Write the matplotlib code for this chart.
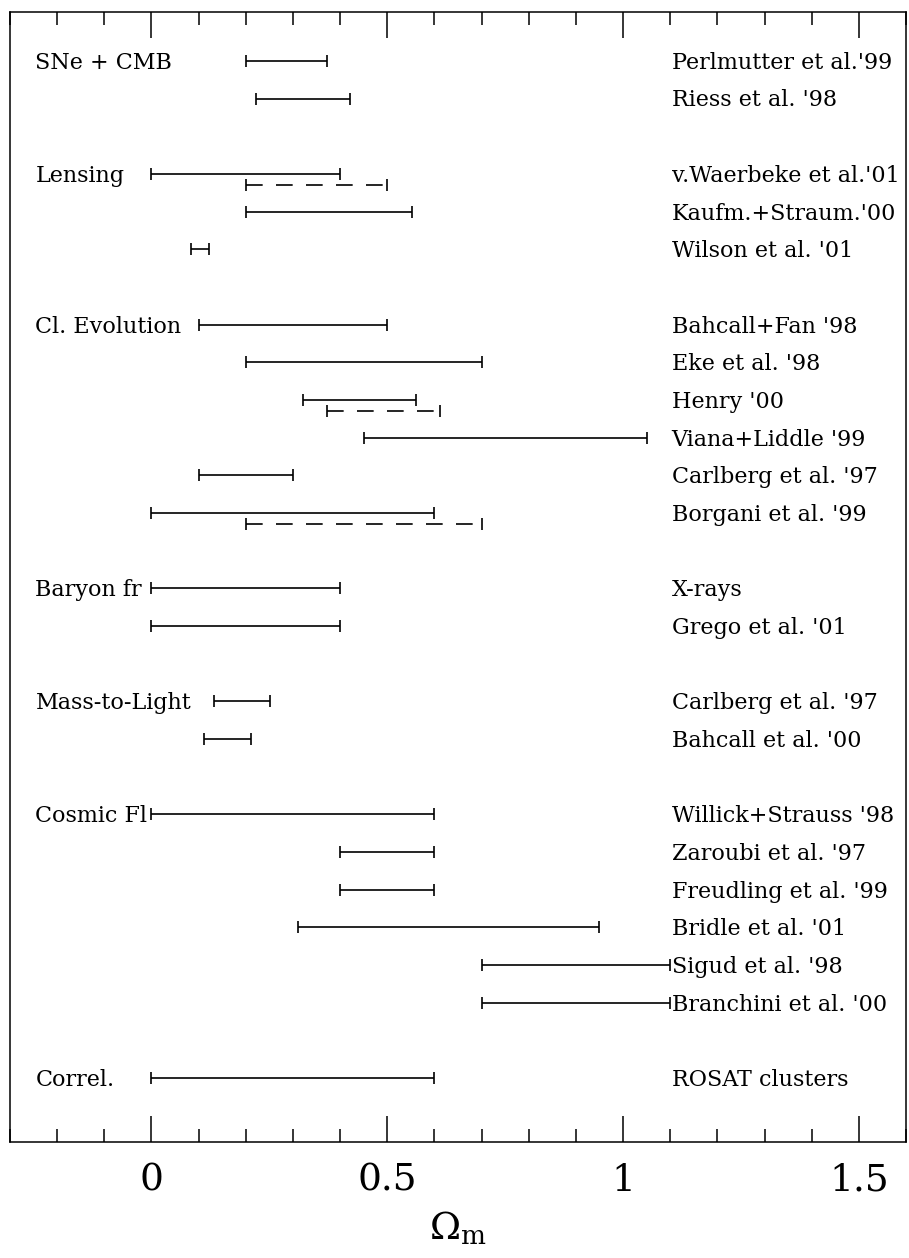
import matplotlib
matplotlib.use("Agg")
import matplotlib.pyplot as plt
from matplotlib.ticker import MultipleLocator, FixedLocator

plt.rcParams['font.family'] = ['DejaVu Serif']
plt.rcParams['mathtext.fontset'] = 'dejavuserif'

# Method groups (left column)
group_labels = ["SNe + CMB", "Lensing", "Cl. Evolution", "Baryon fr",
                "Mass-to-Light", "Cosmic Fl", "Correl."]
group_rows = [0, 3, 7, 14, 17, 20, 27]

# Individual constraints (right column), Omega_m ranges
ref_labels = ["Perlmutter et al.'99", "Riess et al. '98",
              "v.Waerbeke et al.'01", "Kaufm.+Straum.'00", "Wilson et al. '01",
              "Bahcall+Fan '98", "Eke et al. '98", "Henry '00", "Viana+Liddle '99",
              "Carlberg et al. '97", "Borgani et al. '99",
              "X-rays", "Grego et al. '01",
              "Carlberg et al. '97", "Bahcall et al. '00",
              "Willick+Strauss '98", "Zaroubi et al. '97", "Freudling et al. '99",
              "Bridle et al. '01", "Sigud et al. '98", "Branchini et al. '00",
              "ROSAT clusters"]
ref_rows = [0, 1, 3, 4, 5, 7, 8, 9, 10, 11, 12, 14, 15, 17, 18,
            20, 21, 22, 23, 24, 25, 27]
omega_lo = [0.20, 0.222, 0.0, 0.20, 0.083, 0.10, 0.20, 0.322, 0.45, 0.10, 0.0,
            0.0, 0.0, 0.132, 0.112, 0.0, 0.40, 0.40, 0.31, 0.70, 0.70, 0.0]
omega_hi = [0.372, 0.42, 0.40, 0.553, 0.121, 0.50, 0.70, 0.561, 1.05, 0.30, 0.60,
            0.40, 0.40, 0.252, 0.21, 0.60, 0.60, 0.60, 0.95, 1.10, 1.10, 0.60]

# Alternative (dashed) ranges
dash_rows = [3, 9, 12]
dash_lo = [0.20, 0.373, 0.20]
dash_hi = [0.50, 0.612, 0.70]

fig = plt.figure(figsize=(9.09, 12.58), dpi=100)
ax = fig.add_axes([0.011, 0.0922, 0.9857, 0.8983])

lw = 1.2
for r, a, b in zip(ref_rows, omega_lo, omega_hi):
    ax.plot([a, b], [r, r], color='black', lw=lw, solid_capstyle='butt')
    ax.plot([a, b], [r, r], ls='none', marker='|', ms=8, mew=lw, color='black')

doff = 0.3
for r, a, b in zip(dash_rows, dash_lo, dash_hi):
    ax.plot([a, b], [r + doff, r + doff], color='black', lw=lw,
            ls=(0, (10, 8)), dash_capstyle='butt')
    ax.plot([a, b], [r + doff, r + doff], ls='none', marker='|', ms=8,
            mew=lw, color='black')

fs = 16
cap_off = 0.21
for r, t in zip(group_rows, group_labels):
    ax.text(-0.246, r + cap_off, t, fontsize=fs, va='baseline', ha='left')
for r, t in zip(ref_rows, ref_labels):
    ax.text(1.103, r + cap_off, t, fontsize=fs, va='baseline', ha='left')

ax.set_xlim(-0.3, 1.6)
ax.set_ylim(28.7, -1.3)
ax.set_yticks([])
ax.xaxis.set_major_locator(FixedLocator([0, 0.5, 1, 1.5]))
ax.xaxis.set_minor_locator(MultipleLocator(0.1))
ax.set_xticklabels(['0', '0.5', '1', '1.5'])
ax.tick_params(axis='x', which='both', direction='in', top=True, bottom=True,
               width=1.1, labelsize=27, pad=15)
ax.tick_params(axis='x', which='major', length=19)
ax.tick_params(axis='x', which='minor', length=9.5)
for s in ax.spines.values():
    s.set_linewidth(1.1)

ax.set_xlabel(r'$\Omega_{\rm m}$', fontsize=27, labelpad=8)

fig.savefig('out.png', dpi=100)
